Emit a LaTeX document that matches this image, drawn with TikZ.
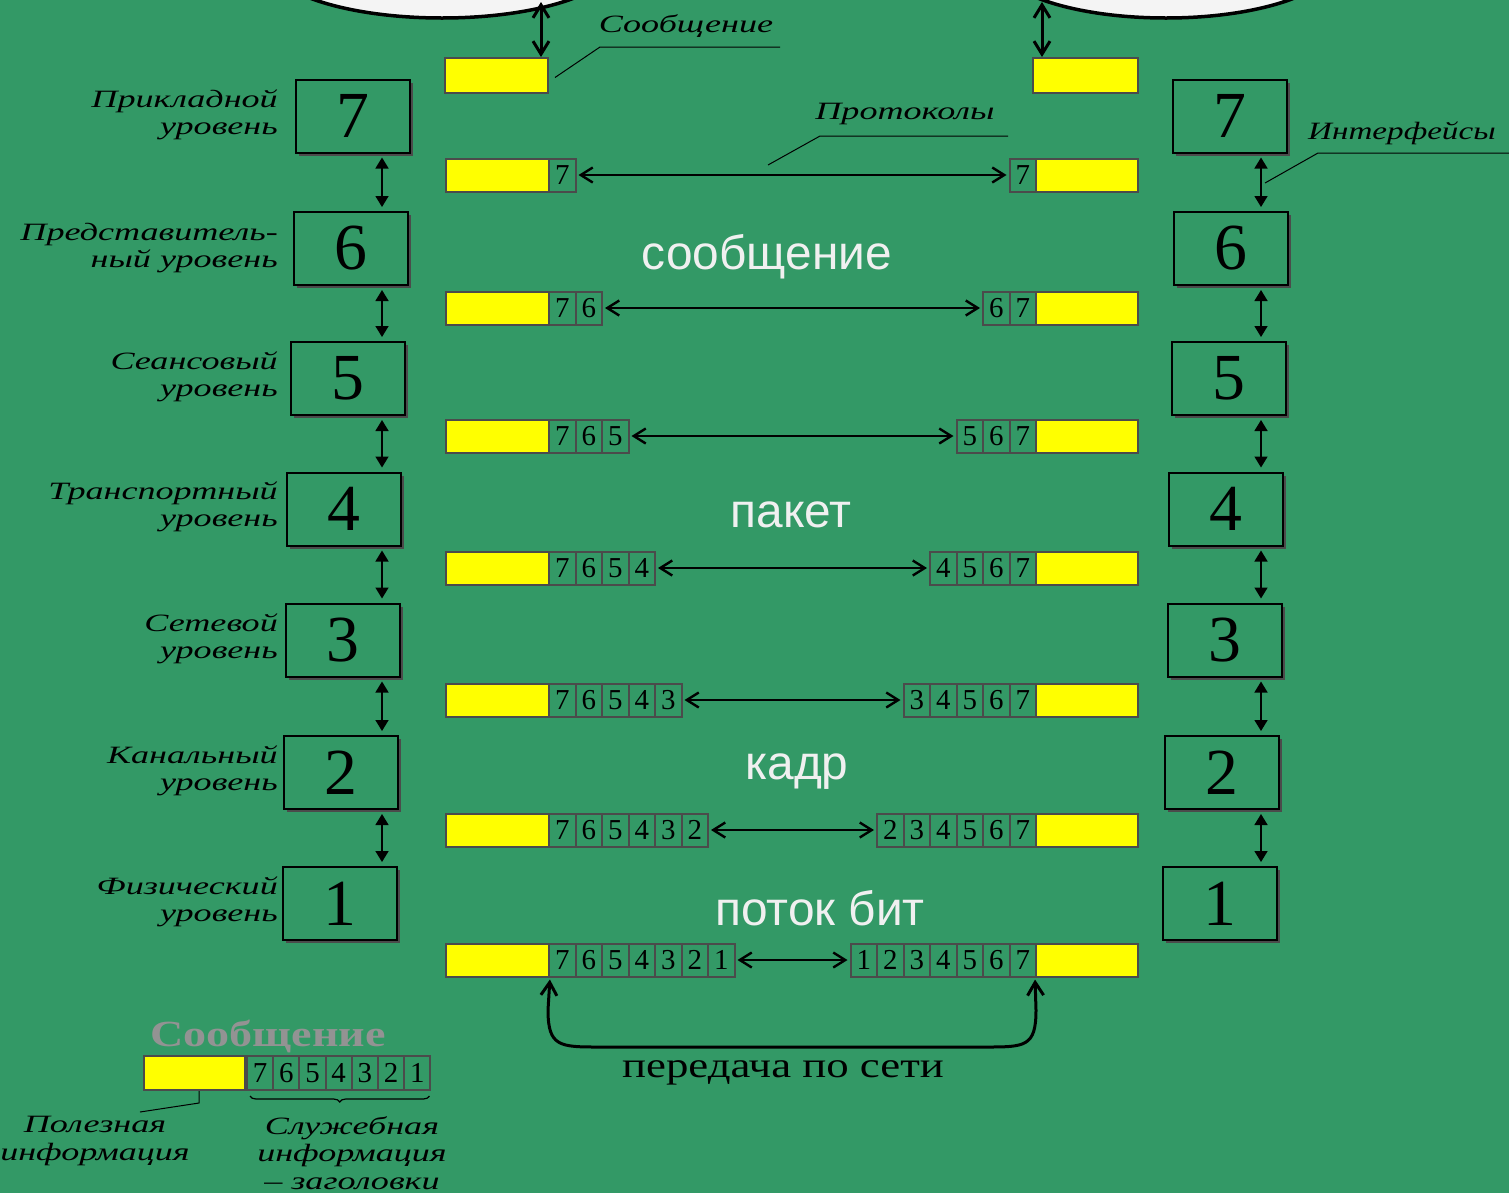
\documentclass[tikz,border=0pt]{standalone}
\usepackage{fontspec}
\setmainfont{Liberation Serif}
\newfontfamily\labfont[FakeStretch=1.45]{Liberation Serif}
\newfontfamily\labfontn[FakeStretch=1.33]{Liberation Serif}
\newfontfamily\widef[FakeStretch=1.25]{Liberation Serif}
\newfontfamily\sansf{Liberation Sans}
\usetikzlibrary{arrows.meta,shadows,shapes.geometric,decorations.pathreplacing}
\definecolor{bg}{RGB}{51,153,102}
\definecolor{ylw}{RGB}{255,255,0}
\definecolor{edg}{RGB}{75,75,75}
\definecolor{wtxt}{RGB}{240,240,240}
\definecolor{ell}{RGB}{244,244,244}
\begin{document}
\begin{tikzpicture}[x=1bp,y=-1bp,
  numbox/.style={draw=black, line width=2bp, fill=bg, minimum width=114bp, minimum height=73bp, inner sep=0,
    font=\fontsize{66}{66}\selectfont,
    drop shadow={shadow xshift=3bp, shadow yshift=-3bp, fill=edg, opacity=1}},
  ybox/.style={draw=edg, line width=2bp, fill=ylw, minimum height=33bp, inner sep=0},
  cell/.style={draw=edg, line width=2bp, fill=bg, minimum width=26.5bp, minimum height=33bp, inner sep=0,
    font=\fontsize{29}{29}\selectfont},
  lab/.style={font=\labfont\itshape\fontsize{25}{27.5}\selectfont, inner sep=0},
  wlab/.style={font=\sansf\fontsize{48}{48}\selectfont, text=wtxt, inner sep=0},
  harrow/.style={{Straight Barb[length=12bp,width=15bp]}-{Straight Barb[length=12bp,width=15bp]}, line width=2.4bp, shorten <=2bp, shorten >=2bp},
  varrow/.style={{Triangle[length=11bp,width=13bp]}-{Triangle[length=11bp,width=13bp]}, line width=1.6bp, shorten <=4bp, shorten >=4bp},
  tarrow/.style={{Straight Barb[length=13bp,width=16bp]}-{Straight Barb[length=13bp,width=16bp]}, line width=3bp},
  leader/.style={line width=1bp}]
\useasboundingbox (0,0) rectangle (1509,1193);
\fill[bg] (0,0) rectangle (1509,1193);

% end systems (ellipses)
\node[ellipse, draw=black, line width=3.5bp, fill=ell, minimum width=350bp, minimum height=116bp] (elL) at (442,-40) {};
\node[ellipse, draw=black, line width=3.5bp, fill=ell, minimum width=340bp, minimum height=116bp] (elR) at (1166,-40) {};

% top messages
\node[ybox, minimum width=103bp, minimum height=35bp] (mL) at (496.5,75.5) {};
\node[ybox, minimum width=105bp, minimum height=35bp] (mR) at (1085.5,75.5) {};
\coordinate (tL) at (541,2);
\coordinate (tR) at (1042,2);
\draw[tarrow] (tL) -- (mL.north -| tL);
\draw[tarrow] (tR) -- (mR.north -| tR);

% labels at top
\node[lab] (lmsg) at (686,26) {Сообщение};
\coordinate (lmsgA) at (600,47);
\coordinate (lmsgB) at (780,47);
\draw[leader] (mL.east) ++(6,2) coordinate (lmsg0) -- (lmsgA) -- (lmsgB);
\node[lab] (lprot) at (905,114) {Протоколы};
\coordinate (lprot0) at (768,165);
\coordinate (lprotA) at (820,136);
\coordinate (lprotB) at (1008,136);
\draw[leader] (lprot0) -- (lprotA) -- (lprotB);
\node[lab, font=\labfontn\itshape\fontsize{25}{27.5}\selectfont, anchor=west] (lint) at (1308,133) {Интерфейсы};
\coordinate (lint0) at (1265,183);
\coordinate (lintA) at (1318,153);
\coordinate (lintB) at (1509,153);
\draw[leader] (lint0) -- (lintA) -- (lintB);

% layer boxes left
\foreach \n/\x/\y in {7/353/116,6/350.5/248.5,5/347.5/378.5,4/344/509,3/342.5/640,2/341/772.5,1/340/903.5}
  \node[numbox] (L\n) at (\x,\y) {\n};
% layer boxes right
\foreach \n/\x/\y in {7/1229.5/116,6/1231/248.5,5/1228.5/378.5,4/1225.5/509,3/1224.5/640,2/1222/772.5,1/1220/903.5}
  \node[numbox] (R\n) at (\x,\y) {\n};

\coordinate (axL) at (382,0);
\coordinate (axR) at (1261,0);
\foreach \a/\b in {7/6,6/5,5/4,4/3,3/2,2/1} {
  \draw[varrow] (L\a.south -| axL) -- (L\b.north -| axL);
  \draw[varrow] (R\a.south -| axR) -- (R\b.north -| axR);
}

% layer names
\foreach \nm/\y/\t in {n7/115/{Прикладной\\уровень}, n6/248/{Представитель-\\ный уровень},
    n5/377/{Сеансовый\\уровень}, n4/507/{Транспортный\\уровень}, n3/639/{Сетевой\\уровень},
    n2/771/{Канальный\\уровень}, n1/902/{Физический\\уровень}}
  \node[lab, align=right, anchor=east] (\nm) at (278,\y) {\t};

% packet rows
\foreach \k/\y in {1/175,2/308,3/436,4/568,5/700,6/830,7/960} {
  \node[ybox, minimum width=103bp] (yl\k) at (497.5,\y) {};
  \node[ybox, minimum width=102bp] (yr\k) at (1087,\y) {};
  \foreach \i in {1,...,\k} {
    \pgfmathtruncatemacro\dl{8-\i}
    \pgfmathtruncatemacro\dr{7-\k+\i}
    \node[cell] (cl\k-\i) at ({549+26.5*(\i-0.5)},\y) {\dl};
    \node[cell] (cr\k-\i) at ({1036-26.5*\k+26.5*(\i-0.5)},\y) {\dr};
  }
  \draw[harrow] (cl\k-\k.east) -- (cr\k-1.west);
}

% unit names
\node[wlab] (u1) at (767,257) {сообщение};
\node[wlab] (u2) at (791,515) {пакет};
\node[wlab] (u3) at (797,772) {кадр};
\node[wlab] (u4) at (820,908) {поток бит};

% network transfer
\coordinate (c1) at (548,1010);
\coordinate (c2) at (600,1047);
\coordinate (c3) at (985,1047);
\coordinate (c4) at (1036,1010);
\draw[tarrow, shorten <=2bp, shorten >=2bp] (yl7.south east) -- (c1) .. controls (548,1047) and (560,1047) .. (c2) -- (c3) .. controls (1025,1047) and (1036,1047) .. (c4) -- (yr7.south west);
\node[font=\widef\fontsize{36}{36}\selectfont, inner sep=0, anchor=base] (net) at (783,1077) {передача по сети};

% legend
\node[font=\widef\bfseries\fontsize{37}{37}\selectfont, text=gray!85!white, inner sep=0] (lgmsg) at (268,1036) {Сообщение};
\node[ybox, minimum width=101bp, minimum height=34bp] (lgy) at (194.5,1073) {};
\foreach \i in {1,...,7} {
  \pgfmathtruncatemacro\dl{8-\i}
  \node[cell, minimum width=26.2bp, minimum height=34bp] (lg\i) at ({247+26.2*(\i-0.5)},1073) {\dl};
}
\draw[decorate, decoration={brace, amplitude=6bp, mirror}, line width=1.2bp] ([xshift=4bp,yshift=-5bp]lg1.south west) -- ([xshift=-2bp,yshift=-5bp]lg7.south east);
\coordinate (lgA) at (199,1103);
\coordinate (lgB) at (140,1112);
\draw[leader] (lgy.south -| lgA) -- (lgA) -- (lgB);
\node[lab, align=center] (lgp) at (95,1141) {Полезная\\информация};
\node[lab, align=center] (lgs) at (352,1153) {Служебная\\информация\\– заголовки};
\end{tikzpicture}
\end{document}
